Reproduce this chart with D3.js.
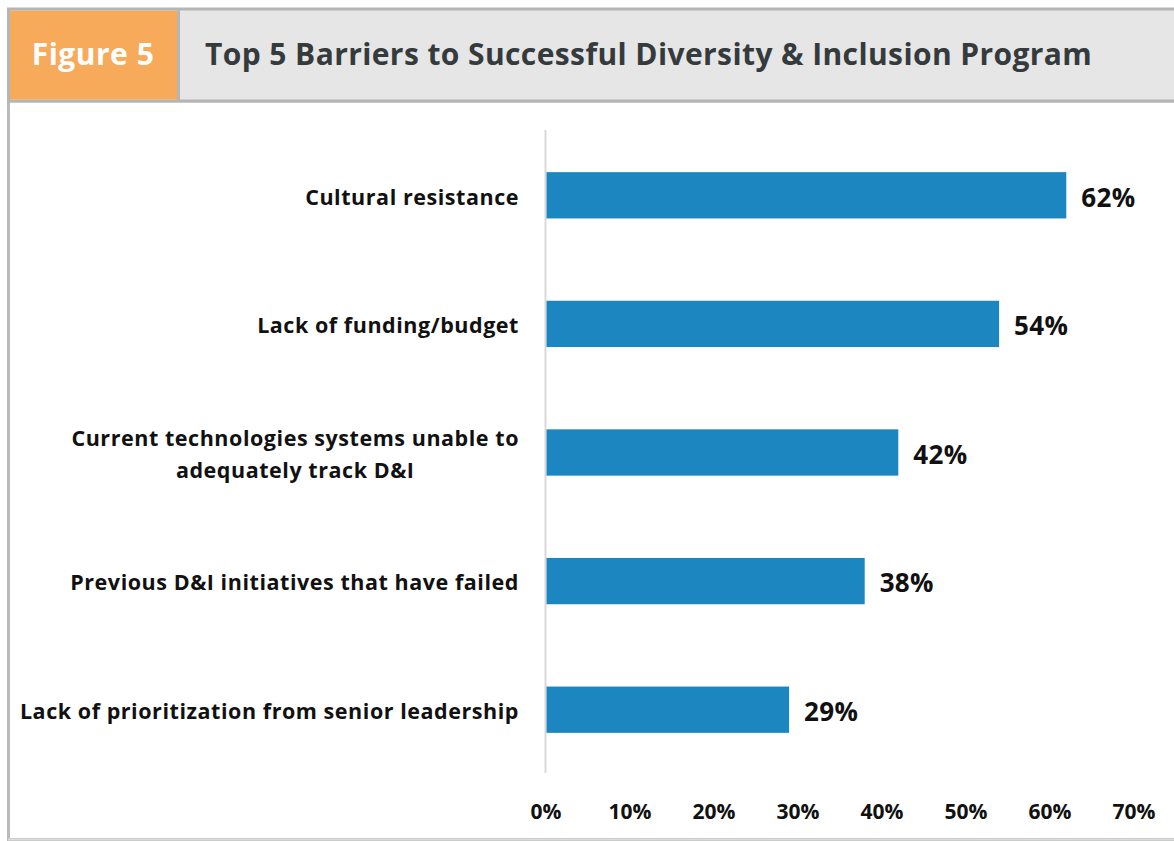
<!DOCTYPE html>
<html>
<head>
<meta charset="utf-8">
<script src="https://cdn.jsdelivr.net/npm/d3@7"></script>
<style>
  html, body { margin: 0; padding: 0; background: #fff; }
  svg { display: block; font-family: "Open Sans", sans-serif; }
</style>
</head>
<body>
<svg id="chart" width="1174" height="841"></svg>
<script>
const figureLabel = "Figure 5";
const title = "Top 5 Barriers to Successful Diversity & Inclusion Program";
const categories = [
  ["Cultural resistance"],
  ["Lack of funding/budget"],
  ["Current technologies systems unable to", "adequately track D&I"],
  ["Previous D&I initiatives that have failed"],
  ["Lack of prioritization from senior leadership"]
];
const values = [62, 54, 42, 38, 29];
const tickValues = [0, 10, 20, 30, 40, 50, 60, 70];

const svg = d3.select("#chart");

// outer frame
svg.append("rect").attr("x", 0).attr("y", 0).attr("width", 1174).attr("height", 841).attr("fill", "#fff");
svg.append("rect").attr("x", 8.5).attr("y", 101).attr("width", 1170).attr("height", 738.5)
  .attr("fill", "none").attr("stroke", "#b9bbba").attr("stroke-width", 3);
svg.append("line").attr("x1", 8).attr("x2", 1174).attr("y1", 839.5).attr("y2", 839.5)
  .attr("stroke", "#dcdcdc").attr("stroke-width", 2);

// header
svg.append("rect").attr("x", 8.5).attr("y", 9).attr("width", 1170).attr("height", 92)
  .attr("fill", "#e6e6e6").attr("stroke", "#b4b6b5").attr("stroke-width", 3);
svg.append("rect").attr("x", 10).attr("y", 10.5).attr("width", 168).attr("height", 89)
  .attr("fill", "#f8aa5b");
svg.append("line").attr("x1", 178.5).attr("x2", 178.5).attr("y1", 9).attr("y2", 101)
  .attr("stroke", "#b4b6b5").attr("stroke-width", 3);

svg.append("text").attr("x", 93).attr("y", 65).attr("text-anchor", "middle")
  .attr("fill", "#fff").attr("font-weight", 700).attr("font-size", 30)
  .attr("letter-spacing", 0.5).text(figureLabel);
svg.append("text").attr("x", 205).attr("y", 65)
  .attr("fill", "#353b3d").attr("font-weight", 700).attr("font-size", 30)
  .attr("letter-spacing", 0.4).text(title);

// scales
const x = d3.scaleLinear().domain([0, 70]).range([545.5, 1133.5]);
const y = d3.scaleBand().domain(d3.range(categories.length)).range([131, 774]).paddingInner(0.64).paddingOuter(0.32);

// vertical axis line
svg.append("line").attr("x1", x(0)).attr("x2", x(0)).attr("y1", 130).attr("y2", 773)
  .attr("stroke", "#d9d9d9").attr("stroke-width", 2);

// bars
svg.append("g").selectAll("rect").data(values).join("rect")
  .attr("x", x(0) + 1)
  .attr("y", (d, i) => y(i))
  .attr("width", d => x(d) - x(0) - 1)
  .attr("height", y.bandwidth())
  .attr("fill", "#1b86bf");

// value labels
svg.append("g").selectAll("text").data(values).join("text")
  .attr("x", d => x(d) + 15)
  .attr("y", (d, i) => y(i) + y.bandwidth() / 2 + 2)
  .attr("dy", "0.36em")
  .attr("font-weight", 700).attr("font-size", 26).attr("fill", "#111")
  .attr("letter-spacing", 0.3)
  .text(d => d + "%");

// category labels
const lh = 32;
const catG = svg.append("g").selectAll("text").data(categories).join("text")
  .attr("font-weight", 700).attr("font-size", 21.5).attr("fill", "#111")
  .attr("letter-spacing", 0.55)
  .attr("y", (d, i) => y(i) + y.bandwidth() / 2);
catG.each(function(lines, i) {
  const t = d3.select(this);
  const cy = y(i) + y.bandwidth() / 2 + 1.5;
  lines.forEach((ln, j) => {
    t.append("tspan").attr("x", 0).attr("y", cy + (j - (lines.length - 1) / 2) * lh)
      .attr("dy", "0.36em").text(ln);
  });
});
// right-align block, center lines within block (Excel style)
catG.each(function() {
  const t = d3.select(this);
  const tspans = t.selectAll("tspan").nodes();
  const widths = tspans.map(n => n.getComputedTextLength());
  const maxW = d3.max(widths);
  tspans.forEach((n, j) => {
    d3.select(n).attr("x", 519 - maxW + (maxW - widths[j]) / 2);
  });
});

// x axis tick labels
const xAxis = d3.axisBottom(x).tickValues(tickValues).tickFormat(d => d + "%").tickSize(0).tickPadding(0);
const ax = svg.append("g").attr("transform", "translate(0,804)").call(xAxis);
ax.select(".domain").remove();
ax.selectAll("text").attr("font-family", "'Open Sans', sans-serif").attr("font-weight", 700)
  .attr("font-size", 21).attr("fill", "#111").attr("dy", "0.71em");
</script>
</body>
</html>
